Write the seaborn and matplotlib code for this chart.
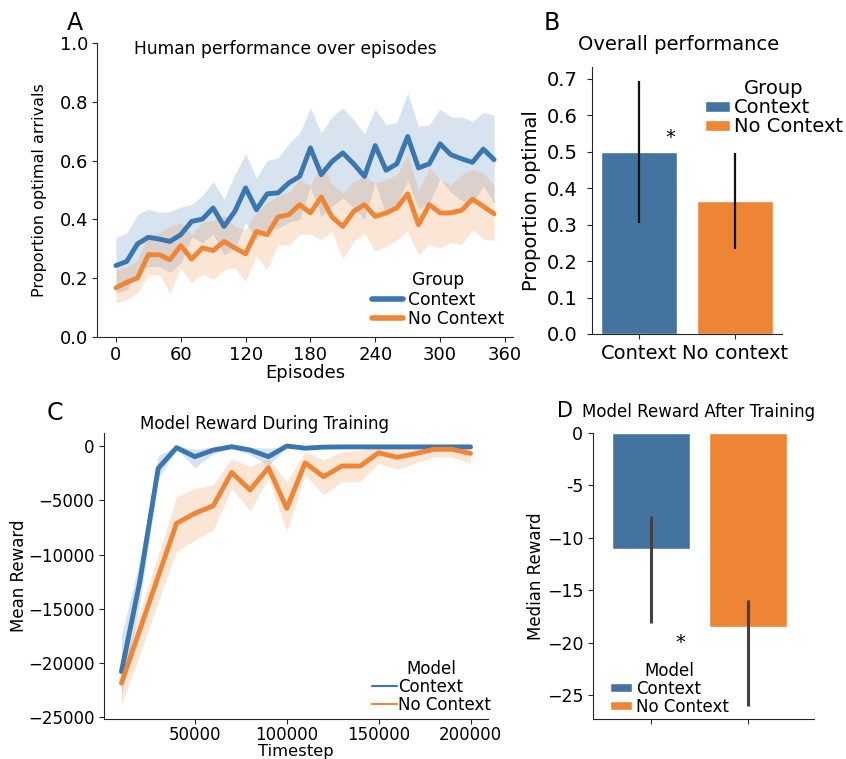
import numpy as np
import pandas as pd
import matplotlib
matplotlib.use('Agg')
import matplotlib.pyplot as plt
import seaborn as sns

# Panel A: human performance over episodes
episodes = [0, 10, 20, 30, 40, 50, 60, 70, 80, 90, 100, 110, 120, 130, 140, 150, 160, 170,
            180, 190, 200, 210, 220, 230, 240, 250, 260, 270, 280, 290, 300, 310, 320, 330, 340, 350]
ctx_mean = [0.243, 0.257, 0.317, 0.339, 0.333, 0.325, 0.348, 0.393, 0.401, 0.439, 0.376, 0.427,
            0.507, 0.433, 0.487, 0.490, 0.524, 0.546, 0.643, 0.552, 0.597, 0.626, 0.589, 0.546,
            0.651, 0.567, 0.589, 0.682, 0.575, 0.589, 0.657, 0.620, 0.606, 0.594, 0.639, 0.603]
ctx_hi = [0.337, 0.354, 0.416, 0.435, 0.424, 0.427, 0.442, 0.450, 0.481, 0.529, 0.469, 0.552,
          0.623, 0.541, 0.601, 0.609, 0.657, 0.694, 0.780, 0.694, 0.750, 0.779, 0.739, 0.691,
          0.776, 0.722, 0.730, 0.830, 0.716, 0.722, 0.776, 0.748, 0.748, 0.733, 0.764, 0.753]
ctx_lo = [0.150, 0.160, 0.220, 0.240, 0.240, 0.220, 0.250, 0.340, 0.320, 0.350, 0.280, 0.300,
          0.390, 0.330, 0.370, 0.370, 0.390, 0.400, 0.510, 0.410, 0.444, 0.473, 0.440, 0.400,
          0.526, 0.410, 0.448, 0.534, 0.434, 0.456, 0.538, 0.492, 0.464, 0.455, 0.514, 0.453]
noctx_mean = [0.167, 0.186, 0.201, 0.280, 0.280, 0.263, 0.311, 0.265, 0.303, 0.294, 0.325, 0.303,
              0.283, 0.359, 0.348, 0.408, 0.416, 0.450, 0.422, 0.476, 0.408, 0.376, 0.427, 0.450,
              0.410, 0.422, 0.439, 0.487, 0.382, 0.450, 0.422, 0.422, 0.431, 0.469, 0.444, 0.419]
noctx_hi = [0.229, 0.240, 0.263, 0.348, 0.354, 0.376, 0.388, 0.348, 0.390, 0.397, 0.416, 0.376,
            0.365, 0.422, 0.456, 0.478, 0.492, 0.535, 0.515, 0.590, 0.518, 0.490, 0.529, 0.546,
            0.524, 0.535, 0.552, 0.620, 0.495, 0.575, 0.535, 0.518, 0.552, 0.569, 0.558, 0.512]
noctx_lo = [0.116, 0.127, 0.150, 0.212, 0.212, 0.150, 0.235, 0.184, 0.215, 0.195, 0.229, 0.235,
            0.189, 0.274, 0.229, 0.314, 0.311, 0.348, 0.350, 0.331, 0.359, 0.265, 0.325, 0.354,
            0.291, 0.308, 0.331, 0.359, 0.280, 0.314, 0.303, 0.322, 0.314, 0.365, 0.333, 0.329]

# Panel B: overall performance
conds_b = ['Context', 'No context']
groups_b = ['Context', 'No Context']
prop_b = [0.50, 0.365]
prop_b_lo = [0.305, 0.232]
prop_b_hi = [0.695, 0.497]

# Panel C: model reward during training
timesteps = [10000, 20000, 30000, 40000, 50000, 60000, 70000, 80000, 90000, 100000,
             110000, 120000, 130000, 140000, 150000, 160000, 170000, 180000, 190000, 200000]
ctx_rew = [-20780, -12500, -2060, -150, -980, -370, -60, -370, -980, 0,
           -200, -100, -80, -80, -80, -80, -80, -80, -80, -80]
ctx_rew_hi = [-17500, -10500, -900, 0, -300, -100, 0, -100, -200, 0,
              -100, 0, 0, 0, 0, 0, 0, 0, 0, 0]
ctx_rew_lo = [-23000, -14500, -3000, -300, -2000, -700, -200, -800, -1800, -100,
              -300, -200, -150, -150, -150, -150, -150, -150, -150, -150]
noctx_rew = [-21850, -16940, -12030, -7120, -6200, -5500, -2430, -4050, -2000, -5740,
             -1540, -2830, -1840, -1840, -620, -1040, -700, -300, -300, -680]
noctx_rew_hi = [-20500, -15250, -10040, -4670, -3900, -3590, -1140, -1900, -1140, -3280,
                -520, -1290, -520, -370, -60, -220, -200, -100, -100, -220]
noctx_rew_lo = [-23900, -19240, -14340, -9730, -8660, -7740, -3900, -5990, -2980, -7890,
                -2670, -4510, -3280, -3280, -1590, -2150, -1590, -980, -1040, -1590]

# Panel D: model reward after training
models_d = ['Context', 'No Context']
reward_d = [-11.05, -18.5]
reward_d_lo = [-18.15, -26.1]
reward_d_hi = [-7.9, -15.9]
d_ticks = [0, -5, -10, -15, -20, -25]
d_ticklabels = ['0', '-5', '\u221210', '\u221215', '\u221220', '\u221225']

line_colors = ['#3a76b0', '#ef8636']
bar_colors = ['#4573a0', '#ee8534']

sns.set_style('ticks')
plt.rcParams['font.family'] = ['DejaVu Sans']
plt.rcParams['text.color'] = 'black'
plt.rcParams['axes.labelcolor'] = 'black'
plt.rcParams['xtick.labelcolor'] = 'black'
plt.rcParams['ytick.labelcolor'] = 'black'

fig = plt.figure(figsize=(8.46, 7.59), dpi=100)
axA = fig.add_axes([0.1147, 0.556, 0.4917, 0.3874])
axB = fig.add_axes([0.6998, 0.560, 0.2246, 0.3518])
axC = fig.add_axes([0.1229, 0.0527, 0.4539, 0.3768])
axD = fig.add_axes([0.7009, 0.0527, 0.2612, 0.3768])

# ---- A ----
dfA = pd.DataFrame({'Episodes': episodes * 2,
                    'Proportion': ctx_mean + noctx_mean,
                    'Group': ['Context'] * len(episodes) + ['No Context'] * len(episodes)})
sns.lineplot(data=dfA, x='Episodes', y='Proportion', hue='Group', palette=line_colors,
             lw=3.5, errorbar=None, ax=axA)
axA.fill_between(episodes, ctx_lo, ctx_hi, color=line_colors[0], alpha=0.2, lw=0)
axA.fill_between(episodes, noctx_lo, noctx_hi, color=line_colors[1], alpha=0.2, lw=0)
axA.set_xlim(-17.5, 367.5)
axA.set_ylim(0, 1)
axA.set_xticks([0, 60, 120, 180, 240, 300, 360])
axA.set_yticks([0.0, 0.2, 0.4, 0.6, 0.8, 1.0])
axA.tick_params(labelsize=13, pad=3)
axA.set_xlabel('Episodes', fontsize=13, labelpad=0)
axA.set_ylabel('Proportion optimal arrivals', fontsize=11.5, labelpad=9)
axA.text(0.453, 0.963, 'Human performance over episodes', transform=axA.transAxes,
         ha='center', va='baseline', fontsize=12.3)
sns.move_legend(axA, 'lower right', bbox_to_anchor=(1.0, 0.0), frameon=False,
                fontsize=12.3, title_fontsize=12.3, handlelength=1.8, handletextpad=0.3,
                labelspacing=0.1, borderpad=0)
for l in axA.get_legend().get_lines():
    l.set_linewidth(4)

# ---- B ----
dfB = pd.DataFrame({'Condition': conds_b, 'Proportion optimal': prop_b, 'Group': groups_b})
sns.barplot(data=dfB, x='Condition', y='Proportion optimal', hue='Group', palette=bar_colors,
            saturation=1, errorbar=None, dodge=False, width=0.8, ax=axB)
bars = sorted([b for c in axB.containers for b in c], key=lambda b: b.get_x())
for b, lo, hi in zip(bars, prop_b_lo, prop_b_hi):
    axB.vlines(b.get_x() + b.get_width() / 2, lo, hi, color='#111111', lw=1.6)
axB.set_ylim(0, 0.733)
axB.set_yticks([0.0, 0.1, 0.2, 0.3, 0.4, 0.5, 0.6, 0.7])
axB.tick_params(labelsize=14)
axB.tick_params(axis='y', pad=7)
axB.set_xlabel('')
axB.set_ylabel('Proportion optimal', fontsize=14)
axB.text(0.453, 1.063, 'Overall performance', transform=axB.transAxes,
         ha='center', va='baseline', fontsize=14)
axB.text(0.33, 0.523, '*', ha='center', va='baseline', fontsize=14)
sns.move_legend(axB, 'upper left', bbox_to_anchor=(0.543, 0.99), frameon=False,
                fontsize=14, title_fontsize=14, handlelength=1.3, handleheight=0.45,
                handletextpad=0.2, labelspacing=0.0, borderpad=0)

# ---- C ----
dfC = pd.DataFrame({'Timestep': timesteps * 2,
                    'Mean Reward': ctx_rew + noctx_rew,
                    'Model': ['Context'] * len(timesteps) + ['No Context'] * len(timesteps)})
sns.lineplot(data=dfC, x='Timestep', y='Mean Reward', hue='Model', palette=line_colors,
             lw=3.5, errorbar=None, ax=axC)
axC.fill_between(timesteps, ctx_rew_lo, ctx_rew_hi, color=line_colors[0], alpha=0.2, lw=0)
axC.fill_between(timesteps, noctx_rew_lo, noctx_rew_hi, color=line_colors[1], alpha=0.2, lw=0)
axC.set_xlim(500, 209500)
axC.set_ylim(-25150, 1200)
axC.set_xticks([50000, 100000, 150000, 200000])
axC.set_yticks([0, -5000, -10000, -15000, -20000, -25000])
axC.tick_params(labelsize=12)
axC.tick_params(axis='x', pad=1.5)
axC.set_xlabel('Timestep', fontsize=11.8, labelpad=0)
axC.set_ylabel('Mean Reward', fontsize=12, labelpad=0)
axC.text(0.417, 1.014, 'Model Reward During Training', transform=axC.transAxes,
         ha='center', va='baseline', fontsize=12)
sns.move_legend(axC, 'lower right', bbox_to_anchor=(1.03, -0.012), frameon=False,
                fontsize=12, title_fontsize=12, handlelength=1.5, handletextpad=0.1,
                labelspacing=0.0, borderpad=0)
for l in axC.get_legend().get_lines():
    l.set_linewidth(1.5)

# ---- D ----
dfD = pd.DataFrame({'cond': models_d, 'Median Reward': reward_d, 'Model': models_d})
sns.barplot(data=dfD, x='cond', y='Median Reward', hue='Model', palette=bar_colors,
            saturation=1, errorbar=None, dodge=False, width=0.8, legend='full', ax=axD)
bars = sorted([b for c in axD.containers for b in c], key=lambda b: b.get_x())
for b, lo, hi in zip(bars, reward_d_lo, reward_d_hi):
    axD.vlines(b.get_x() + b.get_width() / 2, lo, hi, color='#424242', lw=2.2)
axD.set_xlim(-0.6, 1.68)
axD.set_ylim(-27.3, 0)
axD.set_yticks(d_ticks)
axD.set_yticklabels(d_ticklabels)
axD.tick_params(axis='y', labelsize=12.5)
axD.tick_params(axis='x', labelbottom=False)
axD.set_xlabel('')
axD.set_ylabel('Median Reward', fontsize=12, labelpad=1.5)
axD.text(0.3, -20.5, '*', ha='center', va='baseline', fontsize=14)
axD.text(0.477, 1.056, 'Model Reward After Training', transform=axD.transAxes,
         ha='center', va='baseline', fontsize=12)
sns.move_legend(axD, 'lower left', bbox_to_anchor=(0.04, -0.017), frameon=False,
                fontsize=12, title_fontsize=12, handlelength=1.3, handleheight=0.5,
                handletextpad=0.25, labelspacing=0.0, borderpad=0)

sns.despine(fig)

# panel letters
fig.text(0.079, 0.9605, 'A', fontsize=17, va='baseline')
fig.text(0.642, 0.9605, 'B', fontsize=17, va='baseline')
fig.text(0.0556, 0.4466, 'C', fontsize=17, va='baseline')
fig.text(0.658, 0.4506, 'D', fontsize=15, va='baseline')

fig.savefig('out.png', dpi=100)
